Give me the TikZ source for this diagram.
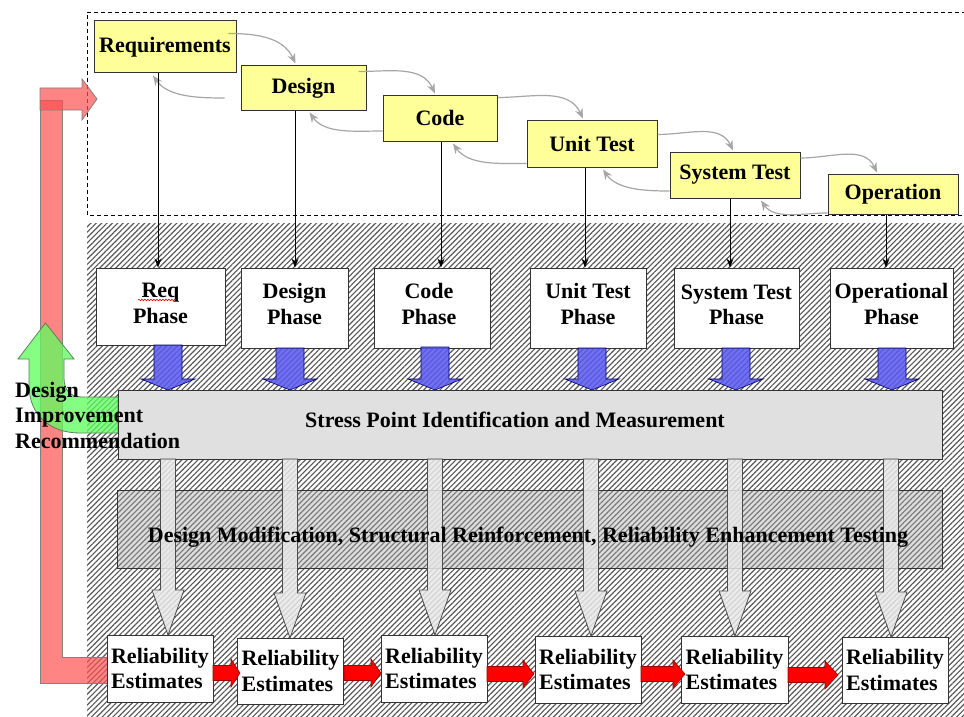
\documentclass[tikz,border=0pt]{standalone}
\usepackage{fontspec}
\setmainfont{Liberation Serif}
\usetikzlibrary{arrows.meta,patterns.meta,calc,decorations.pathmorphing}
\definecolor{boxyellow}{HTML}{FFFF99}
\definecolor{edge}{HTML}{333333}
\definecolor{curvegray}{HTML}{A6A6A6}
\definecolor{hatchgray}{HTML}{585858}
\definecolor{bluefill}{HTML}{5858F0}
\definecolor{pinkfill}{HTML}{FF5050}
\definecolor{greenfill}{HTML}{5CFF5C}
\definecolor{stressgray}{HTML}{E0E0E0}
\definecolor{arrowgray}{HTML}{E8E8E8}
\definecolor{modgray}{HTML}{A8A8A8}
% block arrow pointing down: style, x, ytop, ytip, shaft half, head half, head length
\newcommand\downblock[7]{\path[#1] (#2-#5,#3) -- (#2-#5,#4-#7) -- (#2-#6,#4-#7) -- (#2,#4) -- (#2+#6,#4-#7) -- (#2+#5,#4-#7) -- (#2+#5,#3) -- cycle;}
% block arrow pointing right: style, y, xstart, xtip, shaft half, head half, head length
\newcommand\rightblock[7]{\path[#1] (#3,#2-#5) -- (#4-#7,#2-#5) -- (#4-#7,#2-#6) -- (#4,#2) -- (#4-#7,#2+#6) -- (#4-#7,#2+#5) -- (#3,#2+#5) -- cycle;}
\begin{document}
\begin{tikzpicture}[x=1pt,y=-1pt,
  font=\bfseries\fontsize{22}{25.5}\selectfont,
  ybox/.style={draw=edge,line width=1pt,fill=boxyellow,inner sep=0pt},
  wbox/.style={draw=edge,line width=1pt,fill=white,inner sep=0pt},
  ptext/.style={inner sep=0pt,align=center},
  rbox/.style={draw=edge,line width=1pt,fill=white,inner sep=0pt,align=left,minimum width=106pt,minimum height=67pt},
  gcurve/.style={draw=curvegray,line width=1.2pt,-{Stealth[length=10pt,width=8pt]}},
  conn/.style={draw=black,line width=0.9pt,-{Stealth[length=9pt,width=7pt]}},
  bluearrow/.style={fill=bluefill,fill opacity=0.85,draw=blue!40!black,line width=0.6pt},
  grayarrow/.style={fill=arrowgray,fill opacity=0.85,draw=gray!60!black,line width=0.8pt},
  redarrow/.style={fill=red,draw=red!60!black,line width=0.6pt},
  pinkshape/.style={fill=pinkfill,fill opacity=0.7,draw=gray,line width=0.8pt},
  greenshape/.style={fill=greenfill,fill opacity=0.75,draw={rgb,255:red,90;green,130;blue,90},line width=0.8pt},
]
\useasboundingbox (0,0) rectangle (964,717);
\fill[white] (0,0) rectangle (964,717);

% dashed frame (open on the right, runs off the picture)
\draw[dashed,dash pattern=on 4pt off 3pt,line width=0.8pt] (966,12) -- (87,12) -- (87,215) -- (966,215);

% hatched area
\path[pattern={Lines[angle=45,distance=3.8pt,line width=1.15pt]},pattern color=hatchgray] (87,223) rectangle (966,719);

% pink feedback arrow
\path[pinkshape] (40,100) -- (62,100) -- (62,657) -- (107,657) -- (107,683) -- (40,683) -- cycle;
\path[pinkshape] (40,88) -- (82,88) -- (82,79) -- (97,99) -- (82,120) -- (82,110) -- (40,110) -- cycle;

% green U-turn arrow
\path[greenshape] (118,397) -- (82,397) .. controls (70,397) and (64,390) .. (64,378) -- (64,359) -- (74,359) -- (45.5,323) -- (18,359) -- (29,359) -- (29,385) .. controls (29,415) and (50,433) .. (80,433) -- (118,433) -- cycle;

% yellow process boxes
\node[ybox,minimum width=142pt,minimum height=52pt] (req)  at (165,47)    {Requirements};
\node[ybox,minimum width=125pt,minimum height=44pt] (des)  at (303.5,88)  {Design};
\node[ybox,minimum width=114pt,minimum height=46pt] (code) at (440,118)   {Code};
\node[ybox,minimum width=130pt,minimum height=47pt] (unit) at (592,143.5) {Unit Test};
\node[ybox,minimum width=130pt,minimum height=46pt] (sys)  at (735,175)   {System Test};
\node[ybox,minimum width=130pt,minimum height=40pt] (op)   at (893,194)   {Operation};

% gray waterfall curves
\draw[gcurve] ($(req.north east)+(-8,13)$) to[out=0,in=115] ($(des.north)+(-8,-2)$);
\draw[gcurve] ($(des.west)+(-16,10)$) to[out=180,in=-55,looseness=0.9] ($(req.south)+(-12,2)$);
\draw[gcurve] ($(des.north east)+(-8,6)$) to[out=0,in=115] ($(code.north)+(-5,-1)$);
\draw[gcurve] ($(code.west)+(0,13)$) to[out=180,in=-55,looseness=0.9] ($(des.south)+(6,2)$);
\draw[gcurve] ($(code.north east)+(0,3)$) to[out=0,in=115] ($(unit.north)+(-9,-1)$);
\draw[gcurve] ($(unit.west)+(0,20)$) to[out=180,in=-55,looseness=0.9] ($(code.south)+(13,2)$);
\draw[gcurve] ($(unit.east)+(0,-9)$) to[out=0,in=115] ($(sys.north)+(-2,-1)$);
\draw[gcurve] ($(sys.west)+(0,16)$) to[out=180,in=-55,looseness=0.9] ($(unit.south)+(11,2)$);
\draw[gcurve] ($(sys.east)+(0,-17)$) to[out=0,in=115] ($(op.north)+(-16,-1)$);
\draw[gcurve] ($(op.west)+(0,19)$) to[out=180,in=-55,looseness=0.9] ($(sys.south)+(26,2)$);

% phase boxes
\node[wbox,minimum width=129pt,minimum height=77pt] (rp) at (160.5,306.5) {};
\node[wbox,minimum width=107pt,minimum height=80pt] (dp) at (294.5,308) {};
\node[wbox,minimum width=116pt,minimum height=80pt] (cp) at (432,308) {};
\node[wbox,minimum width=116pt,minimum height=80pt] (upb) at (588,308) {};
\node[wbox,minimum width=125pt,minimum height=80pt] (spb) at (736.5,308) {};
\node[wbox,minimum width=123pt,minimum height=80pt] (opb) at (891.5,308) {};
\node[ptext] (rpt) at ($(rp.center)+(0,-3)$) {Req\\Phase};
\node[ptext] (dpt) at ($(dp.center)+(0,-4)$) {Design\\Phase};
\node[ptext] (cpt) at ($(cp.center)+(-3,-4)$) {Code\\Phase};
\node[ptext] (upt) at ($(upb.center)+(0,-4)$) {Unit Test\\Phase};
\node[ptext] (spt) at ($(spb.center)+(0,-3)$) {System Test\\Phase};
\node[ptext] (opt) at ($(opb.center)+(0,-4)$) {Operational\\Phase};
\draw[red,line width=0.6pt,decorate,decoration={snake,amplitude=0.8pt,segment length=3pt}] (138,300) -- (176,300);

% black connectors
\draw[conn] ([xshift=-7pt]req.south) -- ([xshift=-7pt]req.south |- rp.north);
\draw[conn] ([xshift=-8.5pt]des.south) -- ([xshift=-8.5pt]des.south |- dp.north);
\draw[conn] ([xshift=1pt]code.south) -- ([xshift=1pt]code.south |- cp.north);
\draw[conn] ([xshift=-7pt]unit.south) -- ([xshift=-7pt]unit.south |- upb.north);
\draw[conn] ([xshift=-5pt]sys.south) -- ([xshift=-5pt]sys.south |- spb.north);
\draw[conn] ([xshift=-7pt]op.south) -- ([xshift=-7pt]op.south |- opb.north);

% blue arrows
\downblock{bluearrow}{168}{345}{390}{14}{27}{11}
\downblock{bluearrow}{290}{348}{390}{14}{27}{11}
\downblock{bluearrow}{435}{347}{390}{14}{27}{11}
\downblock{bluearrow}{592}{348}{390}{14}{27}{11}
\downblock{bluearrow}{736}{348}{390}{14}{27}{11}
\downblock{bluearrow}{892}{348}{390}{14}{27}{11}

% stress box
\node[draw=edge,line width=1pt,fill=stressgray,minimum width=824pt,minimum height=69pt,inner sep=0pt] (stress) at (530,424.5) {};
\node[inner sep=0pt] (stresstxt) at (515,419.5) {Stress Point Identification and Measurement};

% design modification box
\node[draw=edge,line width=1pt,fill=modgray,fill opacity=0.4,minimum width=825pt,minimum height=78pt,inner sep=0pt] (mod) at (529.5,529) {};

% gray arrows
\downblock{grayarrow}{168}{459}{635}{7.5}{16}{45}
\downblock{grayarrow}{290}{459}{638}{7.5}{16}{45}
\downblock{grayarrow}{435}{459}{635}{7.5}{16}{45}
\downblock{grayarrow}{591}{459}{636}{7.5}{16}{45}
\downblock{grayarrow}{735}{459}{636}{7.5}{16}{45}
\downblock{grayarrow}{891}{459}{637}{7.5}{16}{45}

\node[inner sep=0pt] (modtxt) at (528,537) {Design Modification, Structural Reinforcement, Reliability Enhancement Testing};

% reliability boxes
\node[rbox] (r1) at (160,668.5) {Reliability\\Estimates};
\node[rbox,minimum height=66pt] (r2) at (290.5,671) {Reliability\\Estimates};
\node[rbox] (r3) at (434,668.5) {Reliability\\Estimates};
\node[rbox] (r4) at (588,669.5) {Reliability\\Estimates};
\node[rbox,minimum width=107pt] (r5) at (734.5,669.5) {Reliability\\Estimates};
\node[rbox,minimum height=66pt] (r6) at (895,670) {Reliability\\Estimates};

% red arrows
\rightblock{redarrow}{673}{213}{240}{7.5}{14}{9}
\rightblock{redarrow}{673}{344}{381}{7.5}{14}{10}
\rightblock{redarrow}{674}{487}{534}{7.5}{14}{11}
\rightblock{redarrow}{674}{641}{685}{7.5}{14}{12}
\rightblock{redarrow}{675}{788}{838}{7.5}{14}{13}

% side label
\node[anchor=north west,align=left,inner sep=0pt] (dir) at (15,382) {Design\\Improvement\\Recommendation};
\end{tikzpicture}
\end{document}
